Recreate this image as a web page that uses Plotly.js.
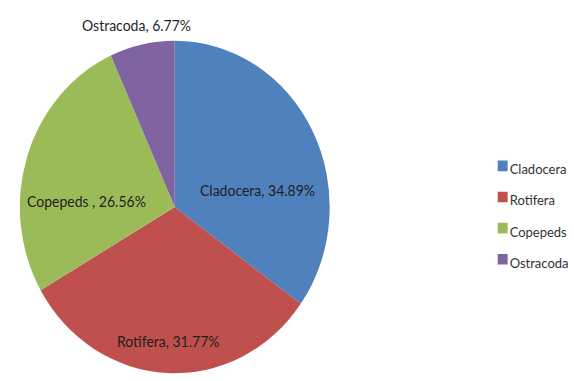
<!DOCTYPE html>
<html>
<head>
<meta charset="utf-8">
<script src="https://cdn.plot.ly/plotly-3.0.1.min.js"></script>
<style>
  html, body { margin: 0; padding: 0; background: #fff; overflow: hidden; }
  #wrap { width: 574px; height: 381px; overflow: hidden; }
  #chart { width: 574px; height: 355px; transform: scaleY(1.0732); transform-origin: 0 0; }
</style>
</head>
<body>
<div id="wrap"><div id="chart"></div></div>
<script>
const categories = ["Cladocera", "Rotifera", "Copepeds", "Ostracoda"];
const textLabels = ["Cladocera", "Rotifera", "Copepeds ", "Ostracoda"];
const values = [34.89, 31.77, 26.56, 6.77];
const colors = ["#4F81BD", "#C0504D", "#9BBB59", "#8064A2"];

const FONT = "Lato, 'Open Sans', sans-serif";
const texts = textLabels.map((l, i) => l + ", " + values[i].toFixed(2) + "%");

// label anchor points (paper coords), one per slice, same order as categories
const labelAnchors = [
  { x: 0.4512, y: 0.4986 },
  { x: 0.2962, y: 0.1050 },
  { x: 0.1516, y: 0.4724 },
  { x: 0.2387, y: 0.9340 }
];

const trace = {
  type: "pie",
  labels: categories.map(c => '<span style="font-size:13px">' + c + '</span>'),
  values: values,
  textinfo: "none",
  sort: false,
  direction: "clockwise",
  rotation: 0,
  marker: { colors: colors, line: { width: 0 } },
  hoverinfo: "label+percent",
  domain: { x: [0.0348, 0.5784], y: [0.0172, 0.896] }
};

const annotations = texts.map((t, i) => ({
  xref: "paper", yref: "paper",
  x: labelAnchors[i].x, y: labelAnchors[i].y,
  xanchor: "center", yanchor: "middle",
  text: t, showarrow: false,
  font: { family: FONT, size: 14, color: "#1f1f1f" }
}));

const layout = {
  width: 574,
  height: 355,
  margin: { l: 0, r: 0, t: 0, b: 0 },
  paper_bgcolor: "#ffffff",
  showlegend: true,
  annotations: annotations,
  legend: {
    x: 0.824, xanchor: "left",
    y: 0.442, yanchor: "middle",
    font: { family: FONT, size: 20, color: "#333333" },
    itemwidth: 30,
    tracegroupgap: 0
  }
};

Plotly.newPlot("chart", [trace], layout, { displayModeBar: false, staticPlot: true }).then(gd => {
  gd.querySelectorAll(".legend .legendpie").forEach(p => {
    p.setAttribute("transform", "translate(33,0) scale(0.83)");
  });
});
</script>
</body>
</html>
